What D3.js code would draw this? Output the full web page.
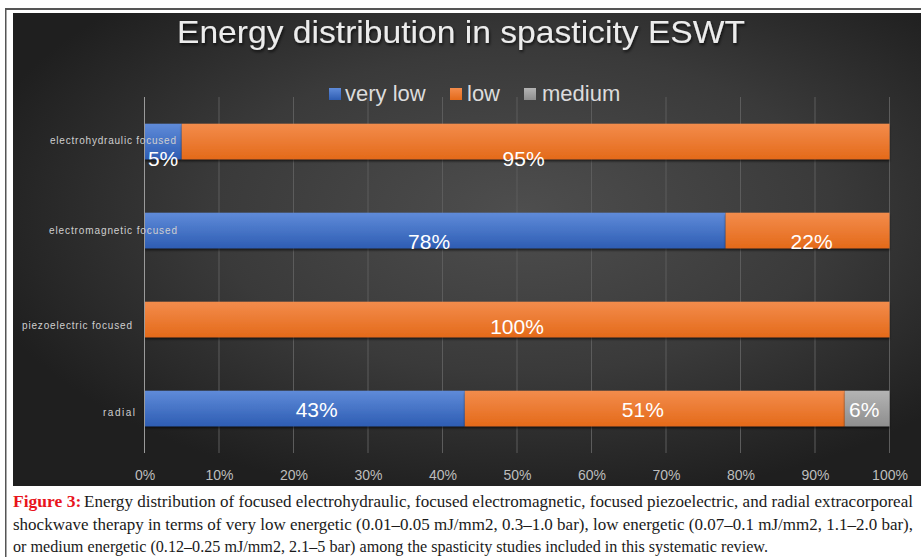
<!DOCTYPE html>
<html>
<head>
<meta charset="utf-8">
<script src="https://cdn.jsdelivr.net/npm/d3@7"></script>
<style>
  html, body { margin: 0; padding: 0; background: #ffffff; }
  svg { display: block; }
</style>
</head>
<body>
<svg id="chart" width="921" height="557"></svg>
<script>
// ---------------- DATA ----------------
const categories = ["electrohydraulic focused", "electromagnetic focused", "piezoelectric focused", "radial"];
const seriesNames = ["very low", "low", "medium"];
const veryLowValues = [5, 78, 0, 43];
const lowValues = [95, 22, 100, 51];
const mediumValues = [0, 0, 0, 6];
const tickValues = [0, 10, 20, 30, 40, 50, 60, 70, 80, 90, 100];
const tickLabels = ["0%", "10%", "20%", "30%", "40%", "50%", "60%", "70%", "80%", "90%", "100%"];
const titleText = "Energy distribution in spasticity ESWT";
const captionLead = "Figure 3:";
const captionLines = [
  "Energy distribution of focused electrohydraulic, focused electromagnetic, focused piezoelectric, and radial extracorporeal",
  "shockwave therapy in terms of very low energetic (0.01\u20130.05 mJ/mm2, 0.3\u20131.0 bar), low energetic (0.07\u20130.1 mJ/mm2, 1.1\u20132.0 bar),",
  "or medium energetic (0.12\u20130.25 mJ/mm2, 2.1\u20135 bar) among the spasticity studies included in this systematic review."
];

// ---------------- LAYOUT ----------------
const colors = { "very low": ["#5f8bd9", "#2e5db3"], "low": ["#f38c4c", "#e46a1a"], "medium": ["#b4b4b4", "#8e8e8e"] };
const legendSquareX = [329, 450, 524];
const legendTextX = [345, 467, 542];
const catLabelX = [50, 49, 22, 103];
const catLabelW = [126, 128, 110, 32];
const catLabelDy = [-2, -1, 5, 3];
const valLabelDy = [17, 11, 7, 1];
const valLabelDx = [[0, -12, 0], [-6, 4, 0], [0, 0, 0], [12, -12, -3]];

const table = categories.map((c, i) => ({
  category: c, "very low": veryLowValues[i], "low": lowValues[i], "medium": mediumValues[i]
}));

const svg = d3.select("#chart");
const defs = svg.append("defs");

// background gradient
const bg = defs.append("radialGradient").attr("id", "bg")
  .attr("cx", 0.56).attr("cy", 0.42).attr("r", 0.62);
bg.append("stop").attr("offset", 0).attr("stop-color", "#4e4e4e");
bg.append("stop").attr("offset", 0.55).attr("stop-color", "#3a3a3a");
bg.append("stop").attr("offset", 1).attr("stop-color", "#1f1f1f");

seriesNames.forEach((s, i) => {
  const g = defs.append("linearGradient").attr("id", "g" + i).attr("x1", 0).attr("y1", 0).attr("x2", 0).attr("y2", 1);
  g.append("stop").attr("offset", 0).attr("stop-color", colors[s][0]);
  g.append("stop").attr("offset", 1).attr("stop-color", colors[s][1]);
});

const shadow = defs.append("filter").attr("id", "barShadow").attr("x", "-5%").attr("y", "-20%").attr("width", "110%").attr("height", "160%");
shadow.append("feDropShadow").attr("dx", 0).attr("dy", 2).attr("stdDeviation", 1.2).attr("flood-color", "#000").attr("flood-opacity", 0.6);
const tshadow = defs.append("filter").attr("id", "textShadow").attr("x", "-5%").attr("y", "-30%").attr("width", "110%").attr("height", "160%");
tshadow.append("feDropShadow").attr("dx", 1).attr("dy", 2).attr("stdDeviation", 1.5).attr("flood-color", "#000").attr("flood-opacity", 0.7);

// page frame
svg.append("rect").attr("x", 5).attr("y", 8).attr("width", 916).attr("height", 2).attr("fill", "#555");
svg.append("rect").attr("x", 5).attr("y", 8).attr("width", 1.5).attr("height", 549).attr("fill", "#555");

// chart background
svg.append("rect").attr("x", 13).attr("y", 13).attr("width", 908).attr("height", 473).attr("fill", "url(#bg)");

// scales
const x = d3.scaleLinear().domain([0, 100]).range([144.5, 889.5]);
const y = d3.scaleBand().domain(categories).range([97, 453]).paddingInner(0.6).paddingOuter(0.3);

// gridlines
svg.append("g").selectAll("line").data(tickValues.slice(1)).join("line")
  .attr("x1", d => x(d)).attr("x2", d => x(d))
  .attr("y1", 97).attr("y2", 453)
  .attr("stroke", "#5c5c5c").attr("stroke-width", 1);

// title
svg.append("text").attr("x", 177).attr("y", 43)
  .attr("textLength", 568).attr("lengthAdjust", "spacingAndGlyphs")
  .attr("font-family", "Liberation Sans, Arial, sans-serif").attr("font-size", 31.5)
  .attr("fill", "#ececec").attr("filter", "url(#textShadow)")
  .text(titleText);

// legend
const lg = svg.append("g");
seriesNames.forEach((s, i) => {
  lg.append("rect").attr("x", legendSquareX[i]).attr("y", 88).attr("width", 12).attr("height", 12)
    .attr("fill", `url(#g${i})`);
  lg.append("text").attr("x", legendTextX[i]).attr("y", 101)
    .attr("font-family", "Liberation Sans, Arial, sans-serif").attr("font-size", 22)
    .attr("fill", "#dcdcdc").text(s);
});

// bars
const stack = d3.stack().keys(seriesNames);
const stacked = stack(table);
const barG = svg.append("g");
stacked.forEach((layer, li) => {
  barG.append("g").selectAll("rect").data(layer.filter(d => d[1] - d[0] > 0)).join("rect")
    .attr("x", d => x(d[0])).attr("width", d => x(d[1]) - x(d[0]))
    .attr("y", d => y(d.data.category)).attr("height", y.bandwidth())
    .attr("fill", `url(#g${li})`).attr("filter", "url(#barShadow)");
});

// axis line at 0
svg.append("line").attr("x1", x(0)).attr("x2", x(0)).attr("y1", 97).attr("y2", 453)
  .attr("stroke", "#9a9a9a").attr("stroke-width", 1);

// value labels
stacked.forEach((layer, li) => {
  svg.append("g").selectAll("text").data(layer.filter(d => d[1] - d[0] > 0)).join("text")
    .attr("x", d => (x(d[0]) + x(d[1])) / 2 + valLabelDx[categories.indexOf(d.data.category)][li])
    .attr("y", d => y(d.data.category) + y.bandwidth() / 2 + valLabelDy[categories.indexOf(d.data.category)])
    .attr("text-anchor", "middle").attr("dominant-baseline", "central")
    .attr("font-family", "Liberation Sans, Arial, sans-serif").attr("font-size", 21)
    .attr("fill", "#ffffff")
    .text(d => Math.round(d[1] - d[0]) + "%");
});

// category labels
svg.append("g").selectAll("text").data(categories).join("text")
  .attr("x", (d, i) => catLabelX[i])
  .attr("y", (d, i) => y(d) + y.bandwidth() / 2 + 4 + catLabelDy[i])
  .attr("textLength", (d, i) => catLabelW[i]).attr("lengthAdjust", "spacing")
  .attr("font-family", "Liberation Sans, Arial, sans-serif").attr("font-size", 10)
  .attr("fill", "#cfcfcf")
  .text(d => d);

// x axis
const xAxis = d3.axisBottom(x).tickValues(tickValues).tickSize(0).tickPadding(17)
  .tickFormat((d, i) => tickLabels[i]);
const ax = svg.append("g").attr("transform", "translate(0,453)").call(xAxis);
ax.select(".domain").remove();
ax.selectAll("text").attr("font-family", "Liberation Sans, Arial, sans-serif").attr("font-size", 14).attr("fill", "#bdbdbd");

// caption
const serif = "Liberation Serif, Times New Roman, serif";
svg.append("text").attr("x", 13).attr("y", 507)
  .attr("font-family", serif).attr("font-size", 17.5).attr("font-weight", "bold").attr("fill", "#e8141c")
  .text(captionLead);
const capPos = [[84, 507, 829], [13, 530, 900], [13, 552, 755]];
captionLines.forEach((t, i) => {
  svg.append("text").attr("x", capPos[i][0]).attr("y", capPos[i][1])
    .attr("textLength", capPos[i][2]).attr("lengthAdjust", "spacingAndGlyphs")
    .attr("font-family", serif).attr("font-size", 16.5).attr("fill", "#1a1a1a")
    .text(t);
});
</script>
</body>
</html>
